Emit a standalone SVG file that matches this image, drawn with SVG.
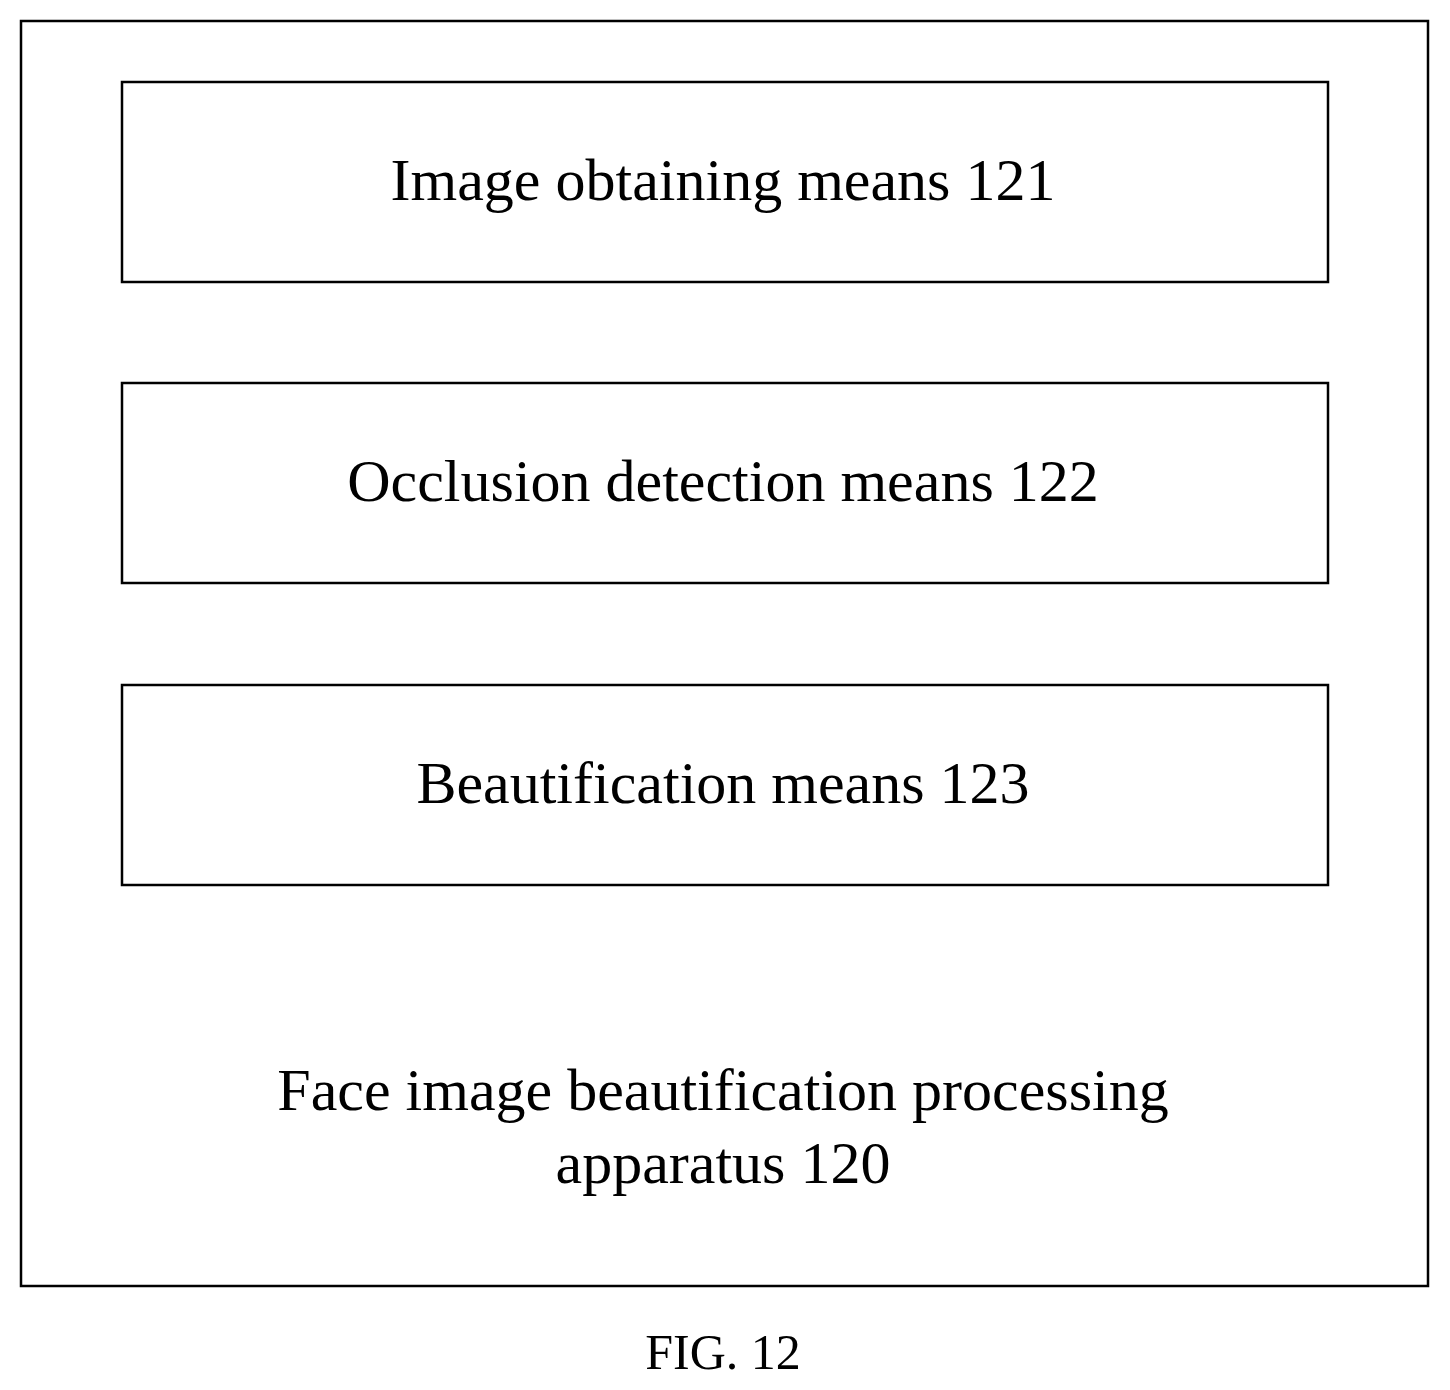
<svg xmlns="http://www.w3.org/2000/svg" width="1450" height="1390" viewBox="0 0 1450 1390">
<style>
rect{fill:none;stroke:#000;stroke-width:2.5}
text{font-family:"Liberation Serif",serif;font-size:60px;text-anchor:middle;fill:#000}
</style>
<rect x="0" y="0" width="1450" height="1390" style="fill:#fff;stroke:none"/>
<g id="outer"><rect x="21" y="21" width="1407" height="1265"/>
<text x="723" y="1110">Face image beautification processing</text>
<text x="723" y="1183">apparatus 120</text></g>
<g id="n121"><rect x="122" y="82" width="1206" height="200"/><text x="723" y="200">Image obtaining means 121</text></g>
<g id="n122"><rect x="122" y="383" width="1206" height="200"/><text x="723" y="501">Occlusion detection means 122</text></g>
<g id="n123"><rect x="122" y="685" width="1206" height="200"/><text x="723" y="803">Beautification means 123</text></g>
<g id="connectors"/>
<text x="723" y="1369" style="font-size:50px">FIG. 12</text>
</svg>
